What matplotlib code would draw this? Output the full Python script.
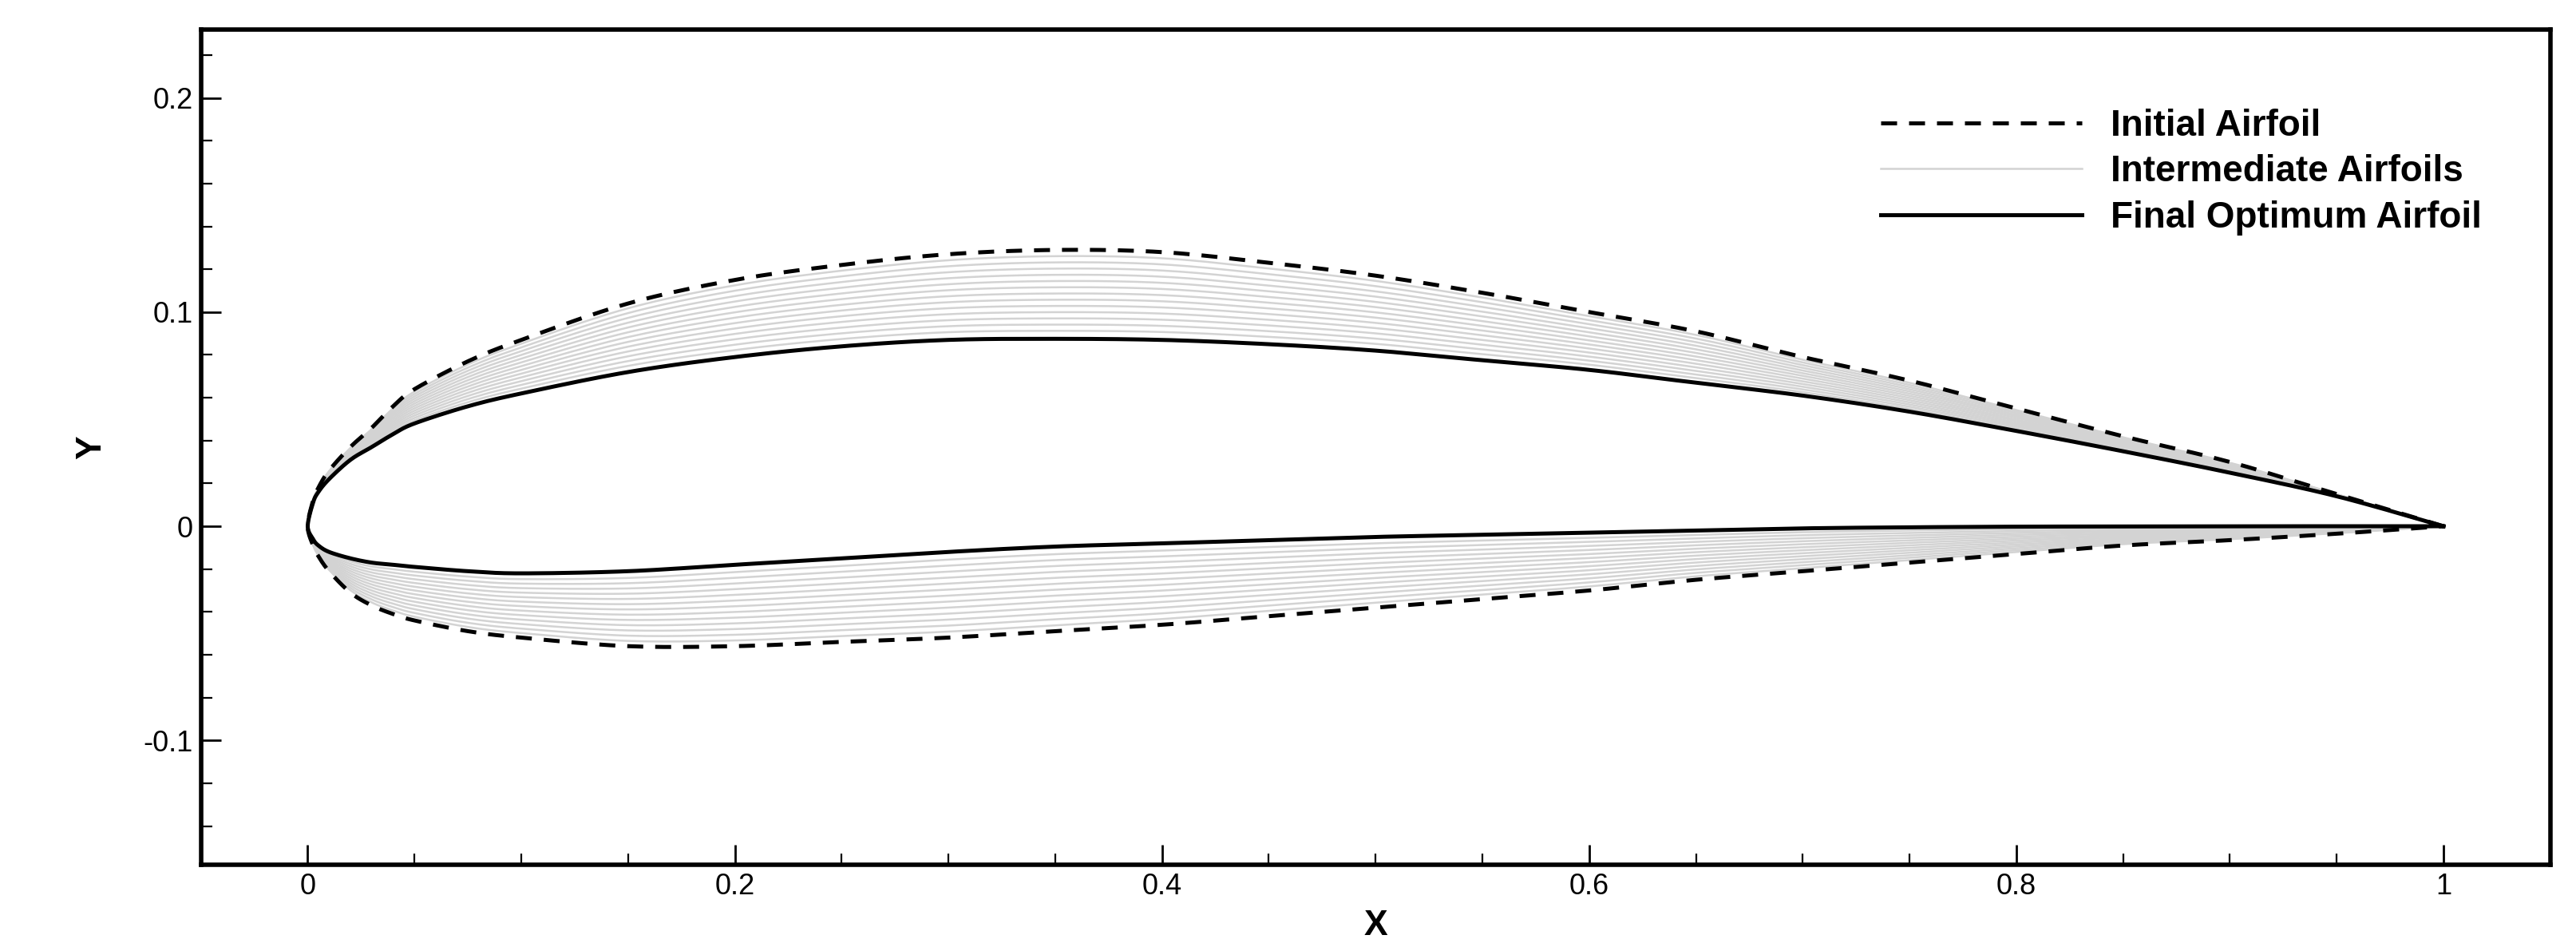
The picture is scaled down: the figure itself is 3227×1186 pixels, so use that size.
import matplotlib
matplotlib.use("Agg")
import matplotlib.pyplot as plt
import numpy as np
from matplotlib.ticker import MultipleLocator

# stations along the chord
x_st = [0.0, 0.0025, 0.005, 0.01, 0.02, 0.03, 0.04, 0.05, 0.075, 0.1, 0.15, 0.2, 0.25, 0.3, 0.35,
        0.4, 0.45, 0.5, 0.55, 0.6, 0.65, 0.7, 0.75, 0.8, 0.85, 0.9, 0.95, 1.0]

init_upper = [0.0, 0.012, 0.018, 0.026, 0.037, 0.046, 0.056, 0.064, 0.077, 0.087, 0.104, 0.115,
              0.122, 0.127, 0.129, 0.128, 0.123, 0.117, 0.109, 0.100, 0.091, 0.079, 0.068, 0.055,
              0.042, 0.030, 0.015, 0.0]
init_lower = [0.0, -0.009, -0.014, -0.021, -0.031, -0.037, -0.041, -0.044, -0.049, -0.052, -0.056,
              -0.056, -0.054, -0.052, -0.049, -0.046, -0.042, -0.038, -0.034, -0.030, -0.025,
              -0.021, -0.017, -0.013, -0.009, -0.0065, -0.0035, 0.0]
final_upper = [0.0, 0.011, 0.016, 0.022, 0.031, 0.037, 0.043, 0.048, 0.056, 0.062, 0.072, 0.079,
               0.084, 0.087, 0.0875, 0.087, 0.085, 0.082, 0.0775, 0.073, 0.067, 0.061, 0.0535,
               0.0445, 0.035, 0.025, 0.014, 0.0]
final_lower = [0.0, -0.006, -0.009, -0.012, -0.015, -0.017, -0.018, -0.019, -0.021, -0.022, -0.021,
               -0.018, -0.015, -0.012, -0.0095, -0.008, -0.0065, -0.005, -0.004, -0.003, -0.002,
               -0.001, -0.0005, -0.0002, -0.0001, 0.0, 0.0, 0.0]

# how far each intermediate design sits between initial (0) and final (1)
inter_steps = [0.07, 0.14, 0.21, 0.28, 0.35, 0.42, 0.49, 0.56, 0.63, 0.70, 0.77, 0.84, 0.91]

plt.rcParams["font.family"] = ["Liberation Sans", "DejaVu Sans"]

x = np.array(x_st)
iu, il = np.array(init_upper), np.array(init_lower)
fu, fl = np.array(final_upper), np.array(final_lower)


def smooth(px, py, n=12):
    # centripetal-ish Catmull-Rom through the read points, for a smooth outline
    P = np.column_stack([px, py])
    P = np.vstack([P[0], P, P[-1]])
    out = []
    t = np.linspace(0, 1, n, endpoint=False)[:, None]
    for i in range(1, len(P) - 2):
        p0, p1, p2, p3 = P[i - 1], P[i], P[i + 1], P[i + 2]
        seg = 0.5 * ((2 * p1) + (-p0 + p2) * t + (2 * p0 - 5 * p1 + 4 * p2 - p3) * t ** 2
                     + (-p0 + 3 * p1 - 3 * p2 + p3) * t ** 3)
        out.append(seg)
    out.append(P[-2][None, :])
    out = np.vstack(out)
    return out[:, 0], out[:, 1]


def outline(up, lo):
    xs = np.concatenate([x[::-1], x[1:]])
    ys = np.concatenate([up[::-1], lo[1:]])
    return smooth(xs, ys)


fig = plt.figure(figsize=(16.135, 5.93), dpi=200)
ax = fig.add_axes([0.078, 0.087, 0.912, 0.882])

for k, t in enumerate(inter_steps):
    ax.plot(*outline(iu + t * (fu - iu), il + t * (fl - il)), color="#d3d3d3", lw=0.9,
            label="Intermediate Airfoils" if k == 0 else None)

ax.plot(*outline(iu, il), color="black", lw=1.8, ls=(0, (4, 3)), label="Initial Airfoil")
ax.plot(*outline(fu, fl), color="black", lw=1.8, label="Final Optimum Airfoil")

ax.set_xlim(-0.05, 1.05)
ax.set_ylim(-0.158, 0.232)
ax.xaxis.set_major_locator(MultipleLocator(0.2))
ax.xaxis.set_minor_locator(MultipleLocator(0.05))
ax.yaxis.set_major_locator(MultipleLocator(0.1))
ax.yaxis.set_minor_locator(MultipleLocator(0.02))
ax.xaxis.set_major_formatter(plt.FuncFormatter(lambda v, p: f"{v:g}"))
ax.yaxis.set_major_formatter(plt.FuncFormatter(lambda v, p: f"{v:g}"))
ax.tick_params(which="both", direction="in", labelsize=13)
ax.tick_params(which="major", length=9, width=1.0)
ax.tick_params(which="minor", length=5, width=0.8)
for s in ax.spines.values():
    s.set_linewidth(2.0)

ax.set_xlabel("X", fontsize=16, fontweight="bold", labelpad=4)
ax.set_ylabel("Y", fontsize=16, fontweight="bold", labelpad=16)

h, l = ax.get_legend_handles_labels()
order = [l.index("Initial Airfoil"), l.index("Intermediate Airfoils"), l.index("Final Optimum Airfoil")]
ax.legend([h[i] for i in order], [l[i] for i in order], loc="upper right",
          bbox_to_anchor=(0.985, 0.945), frameon=False, handlelength=5.5,
          prop={"weight": "bold", "size": 16.5}, labelspacing=0.3)

fig.savefig("out.png", dpi=200)
